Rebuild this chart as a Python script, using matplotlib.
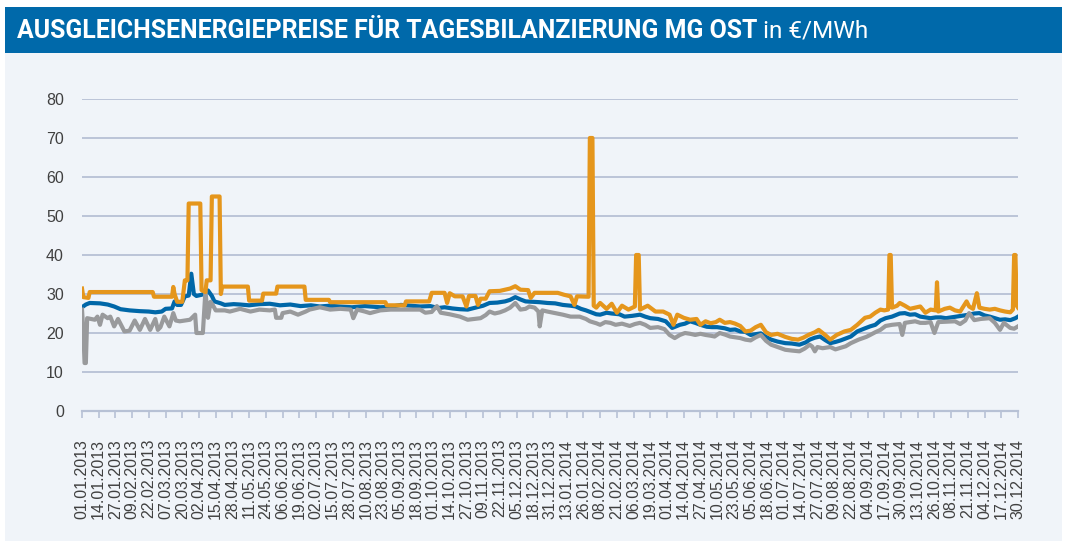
import matplotlib
matplotlib.use("Agg")
import matplotlib.pyplot as plt
import numpy as np
import pandas as pd
from matplotlib.patches import Rectangle

# ---------------- data (day offset from 01.01.2013, €/MWh) ----------------
start_date = "2013-01-01"
end_date = "2014-12-30"

orange_days = [0, 1, 5, 6, 55, 56, 70, 71, 72, 74, 78, 80, 82, 83, 92, 93, 96, 97, 100, 101,
               107, 108, 109, 129, 130, 140, 141, 151, 152, 173, 174, 192, 193, 236, 237, 251,
               252, 270, 272, 282, 284, 286, 290, 296, 299, 301, 306, 308, 310, 314, 317, 325,
               333, 337, 341, 347, 349, 352, 365, 370, 375, 380, 383, 385, 394, 395, 397, 398,
               400, 403, 408, 412, 416, 420, 425, 430, 431, 433, 434, 440, 446, 452, 457, 460,
               463, 468, 473, 478, 481, 485, 489, 493, 496, 500, 504, 508, 512, 516, 520, 524,
               528, 532, 536, 541, 547, 552, 557, 561, 565, 570, 573, 578, 582, 587, 593, 598,
               603, 609, 613, 617, 621, 624, 627, 628, 629, 630, 634, 636, 640, 644, 648, 652,
               656, 660, 664, 665, 666, 671, 675, 679, 683, 688, 690, 693, 696, 698, 702, 706,
               710, 714, 718, 722, 724, 725, 726, 727, 728]
orange_vals = [31.4, 29.2, 29.0, 30.5, 30.5, 29.3, 29.3, 31.8, 30.0, 28.0, 28.0, 33.5, 33.5, 53.2,
               53.2, 31.0, 30.5, 33.5, 33.5, 55.0, 55.0, 30.0, 31.9, 31.9, 28.3, 28.3, 30.1, 30.1,
               31.9, 31.9, 28.5, 28.5, 27.9, 27.9, 27.1, 27.1, 28.1, 28.1, 30.3, 30.3, 27.7, 30.2,
               29.4, 29.4, 26.8, 29.5, 29.5, 27.2, 28.8, 28.8, 30.7, 30.8, 31.4, 32.0, 31.1, 31.0,
               29.0, 30.3, 30.3, 30.3, 29.8, 29.4, 27.2, 29.4, 29.3, 70.0, 70.0, 27.0, 26.5, 27.7,
               26.2, 27.5, 25.2, 27.0, 26.0, 26.8, 40.0, 40.0, 26.0, 27.0, 25.5, 25.5, 24.7, 22.1,
               24.7, 23.9, 23.4, 23.6, 22.1, 23.0, 22.5, 22.8, 23.4, 22.6, 22.8, 22.4, 21.8, 20.4,
               20.6, 21.5, 22.1, 20.2, 19.5, 19.8, 19.0, 18.5, 18.3, 18.8, 19.5, 20.2, 20.8, 19.5,
               18.3, 19.5, 20.4, 20.8, 22.1, 23.9, 24.2, 25.2, 26.0, 25.8, 26.0, 40.0, 40.0, 26.5,
               27.0, 27.7, 27.0, 26.2, 26.5, 26.8, 25.2, 26.0, 25.8, 33.0, 25.5, 26.2, 26.5, 25.8,
               25.5, 28.1, 26.8, 26.2, 30.2, 26.5, 26.2, 26.0, 26.2, 25.8, 25.5, 25.3, 26.0, 40.0,
               40.0, 27.0, 26.5]

blue_days = [0, 3, 6, 14, 20, 25, 30, 37, 45, 52, 57, 62, 65, 70, 72, 74, 77, 80, 83, 85, 87, 89,
             93, 96, 98, 101, 103, 108, 111, 118, 123, 130, 138, 146, 154, 162, 170, 178, 185,
             193, 200, 210, 220, 232, 240, 248, 256, 263, 271, 277, 282, 288, 294, 300, 306, 312,
             317, 323, 329, 333, 337, 341, 345, 350, 356, 362, 368, 374, 380, 384, 388, 392, 396,
             400, 403, 408, 412, 418, 422, 428, 434, 438, 442, 448, 454, 459, 465, 469, 473, 477,
             481, 486, 490, 494, 500, 504, 508, 512, 516, 520, 524, 528, 532, 536, 541, 547, 552,
             558, 563, 566, 570, 574, 578, 582, 586, 590, 594, 598, 603, 609, 613, 617, 621, 625,
             630, 636, 640, 644, 648, 652, 656, 660, 664, 668, 672, 676, 680, 684, 690, 694, 698,
             702, 706, 710, 714, 718, 722, 726, 728]
blue_vals = [26.6, 27.3, 27.7, 27.6, 27.3, 26.8, 26.1, 25.8, 25.6, 25.5, 25.3, 25.5, 26.2, 26.3,
             28.1, 27.2, 27.2, 29.4, 29.6, 35.2, 30.0, 29.5, 29.8, 30.2, 30.9, 29.5, 28.1, 27.6,
             27.2, 27.4, 27.3, 27.1, 27.4, 27.5, 27.1, 27.3, 26.9, 27.1, 26.8, 27.0, 26.8, 26.6,
             26.9, 26.6, 26.7, 27.2, 27.0, 26.8, 26.9, 26.4, 26.6, 26.3, 26.1, 26.0, 26.5, 27.0,
             27.7, 27.8, 28.1, 28.5, 29.2, 28.6, 28.1, 28.0, 27.9, 27.7, 27.6, 27.2, 27.0, 26.8,
             26.2, 25.8, 25.3, 24.8, 24.7, 25.2, 25.0, 24.8, 24.2, 24.4, 24.7, 24.2, 23.8, 23.6,
             23.0, 21.3, 22.1, 22.4, 23.0, 22.6, 22.1, 21.6, 21.5, 21.5, 21.2, 20.8, 20.9, 20.4,
             20.3, 19.5, 19.7, 19.9, 19.0, 18.3, 17.8, 17.4, 17.3, 17.0, 17.6, 18.3, 18.8, 19.1,
             18.2, 17.4, 17.7, 18.1, 18.6, 19.1, 20.4, 21.2, 21.7, 22.1, 23.2, 23.8, 24.2, 25.0,
             25.1, 24.7, 24.8, 24.2, 24.0, 23.8, 24.0, 24.0, 23.8, 24.0, 24.2, 24.4, 24.7, 25.0,
             25.1, 24.5, 24.2, 23.8, 23.4, 23.5, 23.3, 23.8, 24.2]

grey_days = [0, 1, 2, 3, 4, 7, 10, 12, 14, 16, 20, 22, 25, 28, 33, 37, 41, 45, 49, 53, 57, 59, 61,
             64, 68, 71, 73, 76, 80, 84, 88, 89, 94, 96, 98, 100, 102, 104, 111, 115, 123, 131,
             138, 146, 150, 151, 155, 156, 162, 168, 174, 177, 185, 193, 201, 209, 211, 214, 220,
             224, 232, 240, 248, 263, 267, 272, 276, 279, 286, 294, 300, 305, 310, 314, 317, 321,
             325, 329, 333, 337, 341, 345, 348, 352, 355, 356, 358, 362, 368, 374, 380, 387, 392,
             395, 400, 403, 407, 411, 415, 420, 426, 430, 434, 438, 442, 448, 453, 457, 461, 465,
             469, 473, 477, 481, 485, 489, 492, 496, 500, 504, 508, 512, 516, 520, 524, 528, 532,
             536, 541, 547, 552, 558, 562, 566, 568, 570, 572, 576, 582, 586, 590, 594, 598, 604,
             610, 613, 617, 621, 625, 630, 636, 638, 640, 644, 648, 652, 656, 660, 663, 666, 672,
             679, 683, 687, 690, 694, 699, 706, 710, 714, 717, 722, 725, 728]
grey_vals = [26.0, 20.8, 12.3, 12.3, 23.8, 23.6, 23.4, 24.2, 22.1, 24.7, 23.8, 24.2, 21.7, 23.6,
             20.4, 20.6, 23.2, 20.8, 23.6, 20.8, 23.6, 20.8, 21.5, 24.2, 21.7, 25.1, 23.2, 23.0,
             23.2, 23.4, 24.7, 20.0, 20.0, 30.7, 23.9, 28.0, 27.0, 25.8, 25.8, 25.5, 26.2, 25.5,
             26.0, 25.8, 26.0, 23.9, 23.9, 25.1, 25.5, 24.7, 25.5, 26.0, 26.6, 26.0, 26.2, 26.0,
             23.8, 26.0, 25.5, 25.1, 25.8, 26.0, 26.0, 26.0, 25.2, 25.4, 26.9, 25.2, 24.8, 24.2,
             23.4, 23.6, 23.8, 24.6, 25.5, 25.0, 25.3, 25.8, 26.5, 27.7, 26.0, 26.2, 26.8, 26.5,
             25.5, 21.7, 25.8, 25.5, 25.1, 24.7, 24.2, 24.2, 23.6, 23.0, 22.5, 22.1, 22.8, 22.6,
             22.1, 22.4, 21.8, 22.3, 22.6, 22.1, 21.3, 21.5, 21.0, 19.5, 18.7, 19.5, 20.0, 19.8,
             19.5, 19.8, 19.5, 19.3, 19.1, 20.0, 19.6, 19.1, 18.9, 18.7, 18.3, 18.1, 18.9, 19.5,
             18.0, 17.0, 16.4, 15.7, 15.5, 15.3, 16.0, 17.0, 16.5, 15.3, 16.4, 16.1, 16.4, 15.8,
             16.2, 16.6, 17.4, 18.3, 19.0, 19.5, 20.2, 20.8, 21.8, 22.1, 22.3, 19.5, 22.6, 22.8,
             23.0, 22.6, 22.6, 22.8, 20.0, 22.8, 22.9, 23.0, 22.3, 23.2, 25.1, 23.3, 23.6, 23.8,
             22.6, 20.8, 22.6, 21.3, 21.1, 21.7]

y_ticks = [0, 10, 20, 30, 40, 50, 60, 70, 80]
tick_step_days = 13

title_bold = "AUSGLEICHSENERGIEPREISE FÜR TAGESBILANZIERUNG MG OST"
title_unit = " in €/MWh"

# ---------------- styling ----------------
W, H = 1066, 545
DPI = 100
c_orange = "#E5961C"
c_blue = "#0067A8"
c_grey = "#999A9C"
c_header = "#0069AA"
c_panel = "#F0F4F9"
c_grid = "#B7C1D5"
c_text = "#404040"
LW = 3.0

fig = plt.figure(figsize=(W / DPI, H / DPI), dpi=DPI)
fig.patch.set_facecolor("white")

def px_rect(x0, y0, x1, y1, color):
    fig.patches.append(Rectangle((x0 / W, 1 - y1 / H), (x1 - x0) / W, (y1 - y0) / H,
                                 transform=fig.transFigure, facecolor=color,
                                 edgecolor="none", zorder=-5))

px_rect(5, 53, 1062, 541, c_panel)
px_rect(5, 7, 1062, 53, c_header)

# title: scale bold part to span the same width as in the reference
renderer = fig.canvas.get_renderer()
fs = 16.0
t1 = fig.text(17 / W, 1 - 31 / H, title_bold, color="white", fontsize=fs,
              fontweight="bold", family="Roboto", va="center", ha="left")
w = t1.get_window_extent(renderer=renderer).width
fs = fs * (740 / w)
t1.set_fontsize(fs)
bb = t1.get_window_extent(renderer=renderer)
fig.text(bb.x1 / W, 1 - 31 / H, title_unit, color="white", fontsize=fs * 0.98,
         family="Roboto", va="center", ha="left")

ax = fig.add_axes([82 / W, 1 - 411 / H, (1018 - 82) / W, (411 - 99) / H])
ax.set_facecolor("none")
ax.set_zorder(2)

n_days = (pd.Timestamp(end_date) - pd.Timestamp(start_date)).days
ax.set_xlim(0, n_days)
ax.set_ylim(0, 80)

ax.plot(blue_days, blue_vals, color=c_blue, lw=LW, zorder=3, solid_joinstyle="round")
ax.plot(grey_days, grey_vals, color=c_grey, lw=LW, zorder=4, solid_joinstyle="round")
ax.plot(orange_days, orange_vals, color=c_orange, lw=LW, zorder=5, solid_joinstyle="round")

for v in y_ticks[1:]:
    ax.axhline(v, color=c_grid, lw=1.3, zorder=1)

for s in ["top", "right", "left"]:
    ax.spines[s].set_visible(False)
ax.spines["bottom"].set_color(c_grid)
ax.spines["bottom"].set_linewidth(1.6)

ax.set_yticks(y_ticks)
ax.set_yticklabels([str(v) for v in y_ticks], family="Liberation Sans", fontsize=11.5,
                   color=c_text)
ax.tick_params(axis="y", length=0, pad=13)

tick_dates = pd.date_range(start_date, end_date, freq=f"{tick_step_days}D")
tick_pos = [(d - pd.Timestamp(start_date)).days for d in tick_dates]
ax.set_xticks(tick_pos)
ax.set_xticklabels([d.strftime("%d.%m.%Y") for d in tick_dates], rotation=90,
                   family="Liberation Sans", fontsize=11.5, color=c_text)
ax.tick_params(axis="x", length=5, width=1.2, color=c_grid, pad=15)

fig.savefig("out.png", dpi=DPI, facecolor="white")
